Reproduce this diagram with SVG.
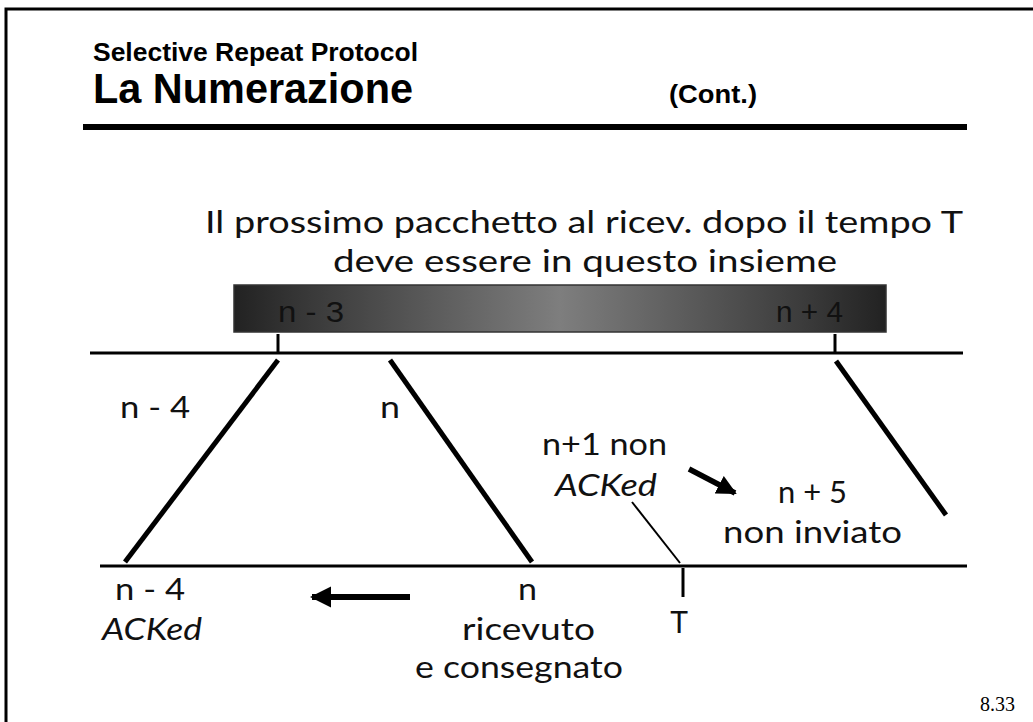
<svg xmlns="http://www.w3.org/2000/svg" width="1033" height="722" viewBox="0 0 1033 722">
<style>
.t{font-family:Lato,"Open Sans",sans-serif;fill:#111;font-size:30px;}
.i{font-style:italic;}
.h{font-family:"Liberation Sans",Arial,sans-serif;font-weight:bold;fill:#000;}
.ln{stroke:#000;fill:none;}
.w{font-family:"Liberation Sans",Arial,sans-serif;font-size:29px;fill:#111;}
</style>
<defs>
<linearGradient id="g" x1="0" x2="1" y1="0" y2="0">
<stop offset="0" stop-color="#222"/>
<stop offset="0.12" stop-color="#3a3a3a"/>
<stop offset="0.5" stop-color="#7e7e7e"/>
<stop offset="0.88" stop-color="#3a3a3a"/>
<stop offset="1" stop-color="#222"/>
</linearGradient>
<marker id="ah" viewBox="0 0 10 10" refX="9" refY="5" markerWidth="3.6" markerHeight="3.6" orient="auto" markerUnits="strokeWidth">
<path d="M0,0 L10,5 L0,10 z" fill="#000"/>
</marker>
</defs>
<rect width="1033" height="722" fill="#fff"/>
<path d="M6,722 V9 H1033" class="ln" stroke-width="3"/>
<g id="title">
<text class="h" x="93" y="61" font-size="25" textLength="325" lengthAdjust="spacingAndGlyphs">Selective Repeat Protocol</text>
<text class="h" x="93" y="103" font-size="42" textLength="320" lengthAdjust="spacingAndGlyphs">La Numerazione</text>
<text class="h" x="669" y="103" font-size="26" textLength="88" lengthAdjust="spacingAndGlyphs">(Cont.)</text>
<line x1="83" y1="127" x2="967" y2="127" class="ln" stroke-width="6"/>
</g>
<g id="caption">
<text class="t" x="205" y="233" textLength="758" lengthAdjust="spacingAndGlyphs">Il prossimo pacchetto al ricev. dopo il tempo T</text>
<text class="t" x="333" y="272" textLength="504" lengthAdjust="spacingAndGlyphs">deve essere in questo insieme</text>
</g>
<g id="window">
<rect x="234" y="285" width="652" height="47" fill="url(#g)" stroke="#333" stroke-width="1.5"/>
<text class="w" x="278" y="322" textLength="66" lengthAdjust="spacingAndGlyphs">n - 3</text>
<text class="w" x="776" y="322" textLength="67" lengthAdjust="spacingAndGlyphs">n + 4</text>
</g>
<g id="connectors">
<line x1="90" y1="353" x2="963" y2="353" class="ln" stroke-width="3"/>
<line x1="100" y1="566" x2="967" y2="566" class="ln" stroke-width="3"/>
<line x1="278" y1="334" x2="278" y2="353" class="ln" stroke-width="3"/>
<line x1="835" y1="334" x2="835" y2="353" class="ln" stroke-width="3"/>
<line x1="278" y1="360" x2="125" y2="562" class="ln" stroke-width="5"/>
<line x1="390" y1="360" x2="532" y2="562" class="ln" stroke-width="5"/>
<line x1="836" y1="361" x2="946" y2="515" class="ln" stroke-width="5"/>
<line x1="632" y1="502" x2="680" y2="563" class="ln" stroke-width="2"/>
<line x1="683" y1="568" x2="683" y2="597" class="ln" stroke-width="3"/>
<line x1="689" y1="469" x2="735" y2="493" class="ln" stroke-width="5.5" marker-end="url(#ah)"/>
<line x1="410" y1="597" x2="312" y2="597" class="ln" stroke-width="6" marker-end="url(#ah)"/>
</g>
<g id="labels">
<text class="t" x="120" y="418" textLength="70" lengthAdjust="spacingAndGlyphs">n - 4</text>
<text class="t" x="380" y="418" textLength="20" lengthAdjust="spacingAndGlyphs">n</text>
<text class="t" x="542" y="455" textLength="125" lengthAdjust="spacingAndGlyphs">n+1 non</text>
<text class="t i" x="555" y="496" textLength="102" lengthAdjust="spacingAndGlyphs">ACKed</text>
<text class="t" x="778" y="503" textLength="69" lengthAdjust="spacingAndGlyphs">n + 5</text>
<text class="t" x="723" y="543" textLength="179" lengthAdjust="spacingAndGlyphs">non inviato</text>
<text class="t" x="115" y="600" textLength="70" lengthAdjust="spacingAndGlyphs">n - 4</text>
<text class="t i" x="102" y="640" textLength="100" lengthAdjust="spacingAndGlyphs">ACKed</text>
<text class="t" x="518" y="600" textLength="19" lengthAdjust="spacingAndGlyphs">n</text>
<text class="t" x="462" y="640" textLength="133" lengthAdjust="spacingAndGlyphs">ricevuto</text>
<text class="t" x="415" y="678" textLength="208" lengthAdjust="spacingAndGlyphs">e consegnato</text>
<text class="t" x="679" y="633" text-anchor="middle">T</text>
<text x="980" y="711" font-family="'Liberation Serif','Times New Roman',serif" font-size="20" fill="#000">8.33</text>
</g>
</svg>
